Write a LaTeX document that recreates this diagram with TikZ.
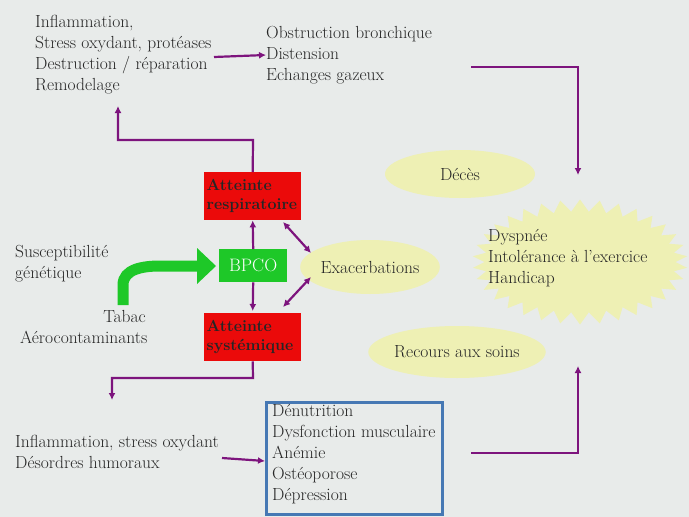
\documentclass[tikz,border=0pt]{standalone}
\usetikzlibrary{shapes.symbols,shapes.geometric,arrows.meta}
\definecolor{bg}{RGB}{232,235,234}
\definecolor{pur}{RGB}{125,20,125}
\definecolor{red1}{RGB}{235,10,10}
\definecolor{grn}{RGB}{30,200,40}
\definecolor{yel}{RGB}{238,240,180}
\definecolor{blu}{RGB}{70,120,180}
\begin{document}
\begin{tikzpicture}[x=1pt,y=-1pt,
  txt/.style={font=\fontsize{17.5}{21}\selectfont,align=left,inner sep=0pt,text=black!85},
  redbox/.style={fill=red1,minimum width=97pt,minimum height=48pt,font=\fontsize{16}{19}\selectfont\bfseries,text=black!85,align=left,inner sep=2pt},
  arr/.style={pur,line width=2.2pt,-{Latex[length=7pt,width=7pt]}},
  darr/.style={pur,line width=2.2pt,{Latex[length=7pt,width=7pt]}-{Latex[length=7pt,width=7pt]}},
  blob/.style={ellipse,fill=yel,draw=none,inner sep=0pt,font=\fontsize{17.5}{20}\selectfont,text=black!85}]
\fill[bg] (0,0) rectangle (689,517);
\useasboundingbox (0,0) rectangle (689,517);
\node[txt,anchor=north west] (tl) at (35,15) {Inflammation,\\Stress oxydant, protéases\\Destruction / réparation\\Remodelage};
\node[txt,anchor=north west] (tm) at (266,26) {Obstruction bronchique\\Distension\\Echanges gazeux};
\node[redbox,anchor=north west] (resp) at (204,172) {\parbox{92pt}{Atteinte\\respiratoire}};
\node[fill=grn,minimum width=68pt,minimum height=33pt,anchor=north west,text=white,font=\fontsize{18}{20}\selectfont] (bpco) at (219,249) {BPCO};
\node[redbox,anchor=north west] (sys) at (204,313) {\parbox{92pt}{Atteinte\\systémique}};
\node[blob,minimum width=132pt,minimum height=54pt] (exa) at (370,267) {Exacerbations};
\node[blob,minimum width=150pt,minimum height=48pt] (dec) at (460,174) {Décès};
\node[blob,minimum width=155pt,minimum height=52pt] (rec) at (457,352) {Recours aux soins};
\node[starburst,fill=yel,random starburst=0,starburst points=34,starburst point height=12pt,minimum width=215pt,minimum height=125pt] (star) at (580,262) {};
\node[txt,anchor=north west] (dys) at (488,229) {Dyspnée\\Intolérance à l’exercice\\Handicap};
\node[txt,anchor=north west] (sus) at (15,245) {Susceptibilité\\génétique};
\node[txt,anchor=north east] (tab) at (146,310) {Tabac};
\node[txt,anchor=north west] (aer) at (20,331) {Aérocontaminants};
\node[txt,anchor=north west] (infl) at (15,435) {Inflammation, stress oxydant\\Désordres humoraux};
\node[draw=blu,line width=2.5pt,minimum width=176pt,minimum height=112pt,anchor=north west] (bb) at (265,401) {};
\node[txt,anchor=north west] (bt) at (272,404) {Dénutrition\\Dysfonction musculaire\\Anémie\\Ostéoporose\\Dépression};
% connectors
\coordinate (tlr) at (214,57);
\draw[arr] (tlr) -- (tm.west |- 0,55);
\draw[arr] (resp.north) -- (253,140) -- (118,140) -- (118,106);
\draw[arr] (bpco.north) -- (resp.south);
\draw[arr] (bpco.south) -- (sys.south |- 0,311);
\draw[darr] (283,222) -- (311,253);
\draw[darr] (283,307) -- (311,277);
\draw[arr] (471,67) -- (578,67) -- (578,175);
\draw[arr] (471,453) -- (578,453) -- (578,366);
\draw[arr] (sys.south) -- (253,378) -- (112,378) -- (112,400);
\draw[arr] (222,458) -- (bb.west |- 0,461);
\draw[grn,line width=11pt] (123,305) -- (123,285) to[out=90,in=180] (160,266) -- (198,266);
\fill[grn] (197,248) -- (216,266) -- (197,284) -- cycle;
\end{tikzpicture}
\end{document}
